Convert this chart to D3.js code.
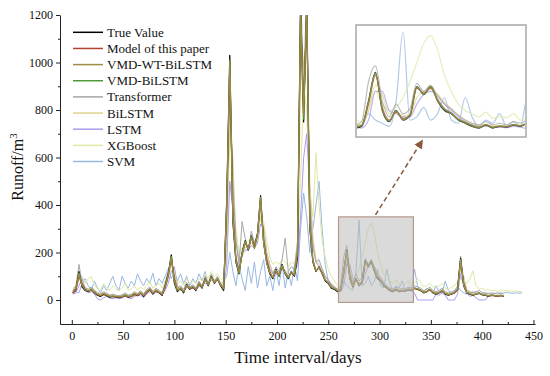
<!DOCTYPE html>
<html><head><meta charset="utf-8">
<script src="https://cdn.jsdelivr.net/npm/d3@7"></script>
<style>
body{margin:0;background:#fff;}
svg{display:block;}
text{font-family:"Liberation Serif","Times New Roman",serif;fill:#111;}
</style>
</head><body>
<svg id="chart" width="550" height="376"></svg>
<script>
// ---------------- DATA ----------------
const days = d3.range(1, 440, 3); // sampled days (1,4,7,...)

const trueValue = [
30,45,120,55,40,35,45,30,20,15,
25,18,12,15,12,10,14,20,12,15,
25,18,30,15,35,45,25,40,30,20,
60,110,190,70,35,50,30,65,45,55,
40,70,50,90,60,100,70,90,60,40,
420,1030,330,160,110,200,250,210,270,220,
280,440,240,160,110,90,130,100,150,110,
90,120,100,180,1250,750,1250,300,160,120,
140,110,80,70,50,45,35,40,120,210,
90,55,90,60,75,165,140,165,120,90,
80,60,50,40,35,45,35,40,38,45,
40,50,45,40,30,35,45,30,25,30,
40,25,20,25,30,45,175,60,30,25,
20,25,30,22,20,15,20,18,15,20,
15];

const modelPaper = [
28,40,100,70,45,38,40,35,22,18,
22,20,15,14,13,12,13,18,14,14,
22,20,28,18,30,42,30,38,32,22,
50,100,175,90,40,48,35,60,48,52,
45,65,55,85,65,95,75,85,65,45,
380,990,380,180,120,190,240,220,260,230,
270,420,250,170,120,95,120,105,140,115,
95,115,105,190,1200,800,1220,340,170,125,
135,115,85,72,55,48,38,42,110,200,
100,60,85,65,72,160,145,160,125,95,
82,62,52,42,36,44,37,40,39,44,
42,48,46,40,32,34,44,32,27,30,
38,27,22,24,30,42,160,70,32,26,
21,24,28,23,20,16,19,18,16,18,
16];

const vmdWtBilstm = [
35,50,110,60,42,40,42,32,25,20,
28,22,16,18,15,14,16,22,15,18,
28,22,32,20,36,48,28,42,34,25,
55,105,180,80,42,52,35,62,50,58,
44,72,55,88,62,98,72,92,62,48,
400,1010,350,170,115,195,245,215,265,215,
275,430,240,155,115,95,125,105,145,112,
95,118,108,210,1230,780,1240,320,165,122,
138,112,84,74,54,48,40,44,115,205,
95,58,88,62,78,162,142,166,122,96,
82,64,54,44,38,46,38,42,40,46,
42,50,47,42,34,36,46,33,28,32,
42,28,24,27,32,46,170,62,33,27,
22,26,30,24,22,18,22,20,17,21,
17];

const vmdBilstm = [
32,48,115,62,44,36,46,34,24,19,
26,21,15,17,14,13,15,21,16,17,
26,21,31,19,34,46,29,41,33,24,
58,108,185,75,38,50,33,63,47,56,
42,70,52,86,63,97,73,88,63,46,
410,1000,340,165,112,198,248,212,268,218,
278,435,235,152,112,92,128,102,148,114,
92,120,104,205,1220,760,1230,310,162,124,
136,114,82,72,52,47,37,43,118,206,
92,57,89,61,76,164,140,163,121,94,
81,61,51,41,36,45,36,41,39,45,
41,49,46,41,31,35,45,31,26,31,
41,26,21,26,31,44,172,61,31,26,
21,25,29,23,21,16,21,19,16,20,
16];

const transformer = [
40,60,150,70,50,45,55,40,30,25,
35,28,20,25,20,18,22,30,20,25,
35,28,40,25,45,55,35,50,40,30,
70,120,170,100,50,60,45,75,55,65,
50,80,60,100,70,110,80,100,70,55,
300,900,500,250,150,330,260,210,290,240,
280,400,280,180,130,110,140,120,170,260,
120,140,130,250,1300,900,1300,400,220,160,
170,130,100,85,65,55,45,55,180,230,
120,70,110,80,95,175,150,170,135,110,
95,75,60,50,45,55,45,50,45,55,
50,60,55,50,40,45,55,40,35,40,
50,35,30,35,40,55,185,80,40,35,
30,35,40,32,30,25,30,28,25,30,
25];

const bilstm = [
35,55,90,80,55,45,50,45,30,28,
30,28,22,22,20,18,20,25,22,22,
30,28,35,28,38,50,40,45,40,32,
50,90,150,120,60,55,45,60,55,60,
50,65,60,80,70,90,85,90,75,55,
250,800,600,260,160,180,220,220,240,230,
250,380,300,200,150,120,120,115,135,125,
105,115,115,170,900,1000,1100,500,260,170,
150,130,100,85,70,58,48,45,90,170,
140,80,85,75,75,130,150,155,140,115,
95,75,60,50,44,46,42,42,41,45,
44,48,48,44,38,37,42,37,32,32,
37,32,27,26,30,38,130,100,45,32,
27,26,28,26,24,20,21,20,18,20,
18];

const lstm = [
25,30,60,90,50,30,35,25,5,0,
10,15,8,5,10,5,8,15,10,5,
15,20,20,10,25,35,30,30,35,20,
40,70,120,140,60,40,40,50,55,50,
45,55,60,70,65,85,80,85,70,50,
150,500,380,250,170,190,210,210,230,220,
240,320,300,200,150,110,110,110,130,120,
100,110,110,150,350,600,700,450,250,160,
140,120,100,80,65,50,40,35,60,150,
150,90,80,70,70,110,140,150,140,110,
90,70,55,45,40,40,38,38,36,40,
38,30,0,0,0,0,0,0,25,20,
30,20,0,0,0,25,110,60,30,15,
20,10,0,0,0,15,20,18,15,18,
15];

const xgboost = [
50,60,80,100,70,90,100,60,50,40,
70,50,40,60,45,40,50,70,40,45,
60,40,55,45,60,80,50,60,70,50,
80,110,140,120,70,80,60,90,70,80,
70,90,80,110,90,120,100,110,90,80,
200,700,500,300,200,220,240,250,260,250,
260,350,330,250,180,150,160,150,170,160,
140,160,150,220,500,900,800,450,350,620,
400,250,180,130,100,80,60,55,90,150,
110,90,100,130,180,240,300,325,280,200,
150,110,90,80,70,85,65,70,68,80,
60,70,90,75,55,60,70,55,50,60,
70,50,45,55,60,75,90,80,70,90,
123,60,45,50,40,45,38,42,35,40,
40,38,40,35,38,36,35];

const svm = [
40,35,30,70,90,60,40,80,50,30,
60,40,70,100,60,40,100,70,50,80,
60,110,80,60,90,70,113,60,90,70,
100,130,90,120,80,110,70,100,60,90,
70,110,80,120,60,100,80,90,60,80,
100,200,120,60,150,90,40,140,70,160,
50,120,170,60,100,40,130,60,150,50,
120,60,150,80,300,450,350,200,300,400,
500,300,150,80,60,50,45,40,80,60,
50,40,120,337,60,70,100,60,80,130,
60,50,130,70,40,60,50,80,40,55,
40,130,60,40,35,50,40,30,60,35,
30,80,40,30,35,60,40,30,25,30,
35,30,25,30,28,30,25,28,30,28,
30,32,30,28,30,29,30];

const seriesNames  = ["True Value","Model of this paper","VMD-WT-BiLSTM","VMD-BiLSTM","Transformer","BiLSTM","LSTM","XGBoost","SVM"];
const seriesValues = [trueValue, modelPaper, vmdWtBilstm, vmdBilstm, transformer, bilstm, lstm, xgboost, svm];
const seriesColors = ["#000000","#b3412f","#9c8c48","#4f9a3a","#a6a6a6","#ddd48c","#a99cf0","#dfe8a4","#98b8e2"];
const seriesWidths = [1.2,1.1,1.1,1.0,1.0,1.0,1.0,1.0,1.0];
const drawOrder    = [8,7,6,5,4,0,1,3,2];

const xTicks = [0,50,100,150,200,250,300,350,400,450];
const xMinorTicks = [25,75,125,175,225,275,325,375,425];
const yTicks = [0,200,400,600,800,1000,1200];
const yMinorTicks = [100,300,500,700,900,1100];
const zoomDays = [260, 333];
const zoomValues = [-10, 350];
const insetValues = [10, 355];

// ---------------- CHART ----------------
const svg = d3.select("#chart");
const x = d3.scaleLinear().domain([-11.5, 451.5]).range([60, 535]);
const y = d3.scaleLinear().domain([-101, 1200]).range([324, 15]);

const series = seriesNames.map((n,i)=>({
  name:n, color:seriesColors[i], width:seriesWidths[i],
  points: seriesValues[i].map((v,j)=>({d:days[j], v:v}))
}));

svg.append("defs").append("clipPath").attr("id","plotClip")
  .append("rect").attr("x",60).attr("y",15).attr("width",475).attr("height",309);

const line = d3.line().x(p=>x(p.d)).y(p=>y(p.v));
const gLines = svg.append("g").attr("clip-path","url(#plotClip)");
drawOrder.forEach(i=>{
  const s = series[i];
  gLines.append("path").attr("d", line(s.points)).attr("fill","none")
    .attr("stroke", s.color).attr("stroke-width", s.width).attr("stroke-linejoin","round");
});

// highlighted box
svg.append("rect")
  .attr("x", x(zoomDays[0])).attr("y", y(zoomValues[1]))
  .attr("width", x(zoomDays[1]) - x(zoomDays[0]))
  .attr("height", y(zoomValues[0]) - y(zoomValues[1]))
  .attr("fill","#bcbcbc").attr("fill-opacity",0.55)
  .attr("stroke","#b8968c").attr("stroke-width",1.2);

// axes
const axisColor = "#222";
svg.append("g").attr("transform","translate(0,324)")
  .call(d3.axisBottom(x).tickValues(xTicks).tickSizeInner(-4).tickSizeOuter(0).tickPadding(7).tickFormat(d3.format("d")));
svg.append("g").attr("transform","translate(0,324)")
  .call(d3.axisBottom(x).tickValues(xMinorTicks).tickSizeInner(-2).tickSizeOuter(0).tickFormat(""))
  .select(".domain").remove();
svg.append("g").attr("transform","translate(60,0)")
  .call(d3.axisLeft(y).tickValues(yTicks).tickSizeInner(4).tickSizeOuter(0).tickPadding(3).tickFormat(d3.format("d")));
svg.append("g").attr("transform","translate(60,0)")
  .call(d3.axisLeft(y).tickValues(yMinorTicks).tickSizeInner(2).tickSizeOuter(0).tickFormat(""))
  .select(".domain").remove();
svg.selectAll(".domain").attr("stroke",axisColor);
svg.selectAll(".tick line").attr("stroke",axisColor);
svg.selectAll(".tick text").attr("font-family","'Liberation Serif',serif").attr("font-size",12).attr("fill","#111");

// axis titles
svg.append("text").attr("x",298).attr("y",363).attr("text-anchor","middle")
  .attr("font-size",17).text("Time interval/days");
const yt = svg.append("text").attr("transform","translate(23,167) rotate(-90)")
  .attr("text-anchor","middle").attr("font-size",16);
yt.append("tspan").text("Runoff/m");
yt.append("tspan").attr("baseline-shift","super").attr("font-size",11).text("3");

// legend
const lg = svg.append("g");
series.forEach((s,i)=>{
  const yy = 32.3 + i*16.15;
  lg.append("line").attr("x1",73).attr("x2",103).attr("y1",yy).attr("y2",yy)
    .attr("stroke",s.color).attr("stroke-width",1.5);
  lg.append("text").attr("x",107).attr("y",yy).attr("dy","0.35em")
    .attr("font-size",13).text(s.name);
});

// inset
const xi = d3.scaleLinear().domain(zoomDays).range([357,525]);
const yi = d3.scaleLinear().domain(insetValues).range([136,26]);
svg.select("defs").append("clipPath").attr("id","insetClip")
  .append("rect").attr("x",357).attr("y",26).attr("width",168).attr("height",110);
svg.append("rect").attr("x",356).attr("y",25).attr("width",170).attr("height",112)
  .attr("fill","#fff");
const gi = svg.append("g").attr("clip-path","url(#insetClip)");
const lineI = d3.line().x(p=>xi(p.d)).y(p=>yi(p.v)).curve(d3.curveMonotoneX);
drawOrder.forEach(i=>{
  const s = series[i];
  const pts = s.points.filter(p=>p.d>=zoomDays[0]-6 && p.d<=zoomDays[1]+6);
  gi.append("path").attr("d", lineI(pts)).attr("fill","none")
    .attr("stroke", s.color).attr("stroke-width", 1.2).attr("stroke-opacity",0.75);
});
svg.append("rect").attr("x",356).attr("y",25).attr("width",170).attr("height",112)
  .attr("fill","none").attr("stroke","#a8a8a8").attr("stroke-width",1.5);

// arrow
svg.select("defs").append("marker").attr("id","arrowHead")
  .attr("viewBox","0 0 10 10").attr("refX",8).attr("refY",5)
  .attr("markerWidth",6).attr("markerHeight",6).attr("orient","auto")
  .append("path").attr("d","M0,0L10,5L0,10Z").attr("fill","#8b5a3c");
svg.append("line")
  .attr("x1", x(296)).attr("y1", y(350)-2)
  .attr("x2", 422).attr("y2", 141)
  .attr("stroke","#8b5a3c").attr("stroke-width",1.5).attr("stroke-dasharray","5,3")
  .attr("marker-end","url(#arrowHead)");
</script>
</body></html>
